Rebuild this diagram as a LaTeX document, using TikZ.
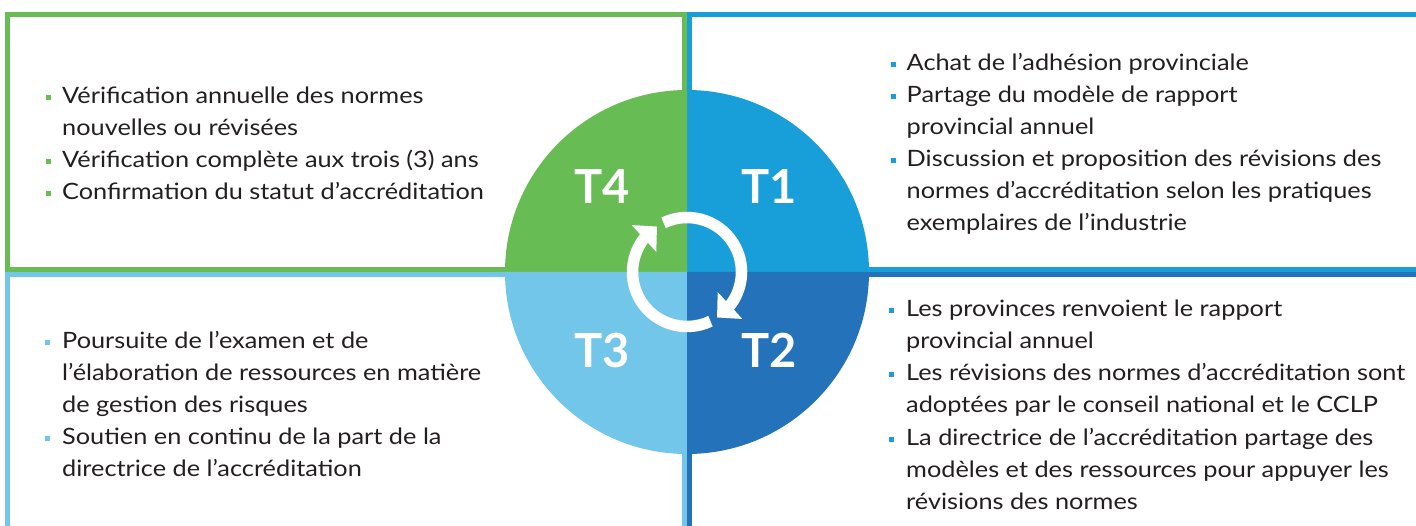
\documentclass[tikz,border=0pt]{standalone}
\usepackage{fontspec}
\setmainfont{Lato}[FakeStretch=1.125]
\newfontfamily\labfont{Lato}
\usetikzlibrary{arrows.meta,bending}

\definecolor{grn}{RGB}{104,188,84}
\definecolor{blu}{RGB}{24,159,217}
\definecolor{dblu}{RGB}{36,114,185}
\definecolor{lblu}{RGB}{113,198,234}
\definecolor{ink}{RGB}{35,31,32}

\begin{document}
\begin{tikzpicture}[x=1pt,y=1pt]
  \tikzset{frame/.style = {line width=5pt}}
  \tikzset{line/.style = {inner sep=0pt,anchor=base west,text=ink,font=\fontsize{22.5}{27}\selectfont}}
  \tikzset{dot/.style = {minimum width=5pt,minimum height=5pt,inner sep=0pt}}
  \tikzset{quarter/.style = {inner sep=0pt,anchor=base,text=white,font=\labfont\bfseries\fontsize{47}{50}\selectfont}}
  \tikzset{ring/.style = {draw=white,line width=11.5pt,-{Triangle[length=17.7pt,width=35.4pt]}}}

  \useasboundingbox (0,0) rectangle (1416,525);

	% frames
	\draw[frame,grn] (7.5,255.5) rectangle (684.5,510.5);
	\draw[frame,blu] (689.5,255.5) rectangle (1430,510.5);
	\draw[frame,dblu] (689.5,250.5) rectangle (1430,-10);
	\draw[frame,lblu] (7.5,250.5) rectangle (684.5,-10);

	% circle
	\coordinate (c) at (687,253);
	\fill[blu] (c) -- ++(0:182) arc[start angle=0,end angle=90,radius=182] -- cycle;
	\fill[grn] (c) -- ++(90:182) arc[start angle=90,end angle=180,radius=182] -- cycle;
	\fill[lblu] (c) -- ++(180:182) arc[start angle=180,end angle=270,radius=182] -- cycle;
	\fill[dblu] (c) -- ++(270:182) arc[start angle=270,end angle=360,radius=182] -- cycle;

	\node[quarter] (t4) at (602.5,321) {T4};
	\node[quarter] (t1) at (769.5,321) {T1};
	\node[quarter] (t3) at (602.5,157) {T3};
	\node[quarter] (t2) at (769,157) {T2};

	\draw[ring] (c) ++(115.5:54.5) arc[start angle=115.5,end angle=-56.6,radius=54.5];
	\draw[ring] (c) ++(-64.5:54.5) arc[start angle=-64.5,end angle=-236.6,radius=54.5];

	% T4
    \foreach \i/\y/\t in {1/421/{Vérification annuelle des normes},2/389.2/{nouvelles ou révisées},
    3/357.4/{Vérification complète aux trois (3) ans},4/325.6/{Confirmation du statut d’accréditation}}
    \node[line] (a\i) at (62,\y) {\t};
    \foreach \i/\y in {1/421,2/357.4,3/325.6}
    \node[dot,fill=grn] (ad\i) at (48.5,\y+6) {};

	% T1
    \foreach \i/\y/\t in {1/454/{Achat de l’adhésion provinciale},2/422/{Partage du modèle de rapport},
    3/390/{provincial annuel},4/358/{Discussion et proposition des révisions des},
    5/326/{normes d’accréditation selon les pratiques},6/294/{exemplaires de l’industrie}}
    \node[line] (b\i) at (906.5,\y) {\t};
    \foreach \i/\y in {1/454,2/422,3/358}
    \node[dot,fill=blu] (bd\i) at (893,\y+6) {};

	% T2
    \foreach \i/\y/\t in {1/208/{Les provinces renvoient le rapport},2/176/{provincial annuel},
    3/144/{Les révisions des normes d’accréditation sont},4/112/{adoptées par le conseil national et le CCLP},
    5/80/{La directrice de l’accréditation partage des},6/48/{modèles et des ressources pour appuyer les},
    7/16/{révisions des normes}}
    \node[line] (d\i) at (906,\y) {\t};
    \foreach \i/\y in {1/208,2/144,3/80}
    \node[dot,fill=blu] (dd\i) at (891.5,\y+6) {};

	% T3
    \foreach \i/\y/\t in {1/176/{Poursuite de l’examen et de},2/144.2/{l’élaboration de ressources en matière},
    3/112.4/{de gestion des risques},4/80.6/{Soutien en continu de la part de la},
    5/48.8/{directrice de l’accréditation}}
    \node[line] (e\i) at (62,\y) {\t};
    \foreach \i/\y in {1/176,2/80.6}
    \node[dot,fill=lblu] (ed\i) at (47.5,\y+6) {};

\end{tikzpicture}
\end{document}
